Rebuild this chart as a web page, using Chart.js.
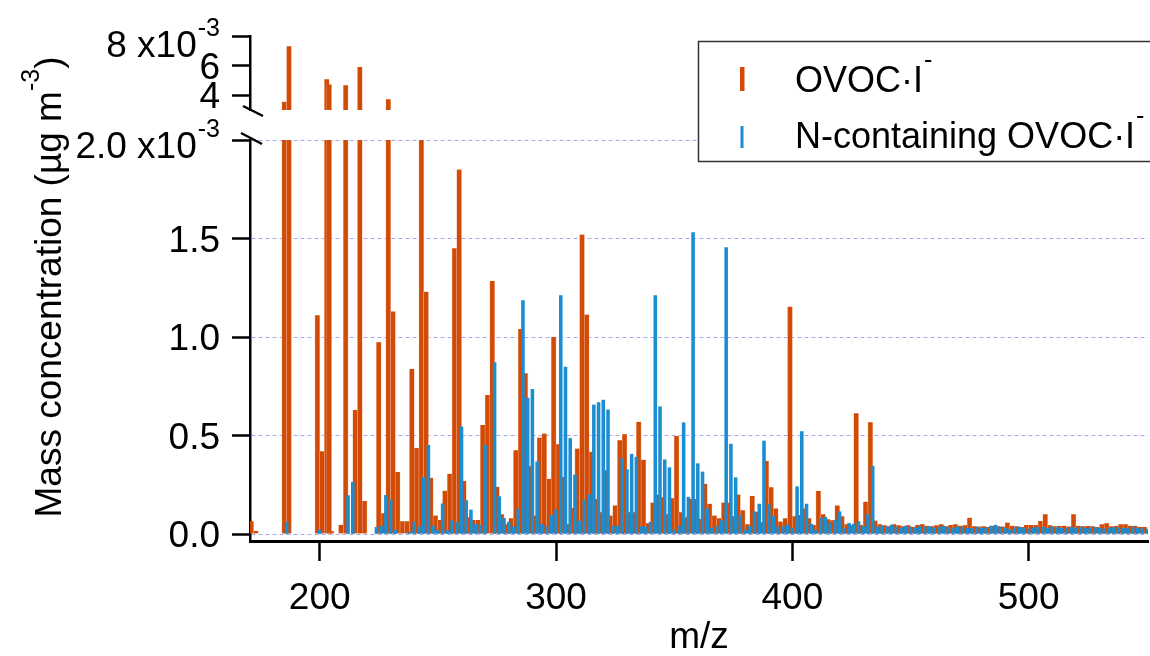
<!DOCTYPE html>
<html>
<head>
<meta charset="utf-8">
<script src="https://cdn.jsdelivr.net/npm/chart.js@4.4.0/dist/chart.umd.min.js"></script>
<style>
  html, body { margin: 0; padding: 0; background: #fff; }
  #wrap { width: 1150px; height: 656px; }
</style>
</head>
<body>
<div id="wrap"><canvas id="chart" width="1150" height="656"></canvas></div>
<script>
// values in 10^-3 ug m^-3
const ovocMz = [
  171,173,185,187,199,201,203,204,205,209,
  211,215,217,219,225,227,229,231,233,235,
  237,239,241,243,245,247,249,251,253,255,
  257,259,261,263,265,267,269,271,273,275,
  277,279,281,283,285,287,289,291,293,295,
  297,299,301,303,305,307,309,311,313,315,
  317,319,321,323,325,327,329,331,333,335,
  337,339,341,343,345,347,349,351,353,355,
  357,359,361,363,365,367,369,371,373,375,
  377,379,381,383,385,387,389,391,393,395,
  397,399,401,403,405,407,409,411,413,415,
  417,419,421,423,425,427,429,431,433,435,
  437,439,441,443,445,447,449,451,453,455,
  457,459,461,463,465,467,469,471,473,475,
  477,479,481,483,485,487,489,491,493,495,
  497,499,501,503,505,507,509,511,513,515,
  517,519,521,523,525,527,529,531,533,535,
  537,539,541,543,545,547,549
]
const ovocVal = [
  .065,.015,3.55,7.3,1.11,.42,5.07,4.73,.014,.047,
  4.67,.63,5.9,.167,.973,.105,3.73,1.13,.315,.065,
  .065,.837,.437,2.6,1.23,.286,.094,.071,.22,.306,
  1.45,1.85,.27,.085,.071,.071,.553,.706,1.284,.24,
  .1,.05,.08,.425,1.04,.816,.344,.094,.49,.51,
  .28,1.0,.456,.29,.05,.133,.434,1.52,1.114,.417,
  .178,.11,.323,.094,.145,.476,.507,.11,.11,.57,
  .377,.054,.16,.2,.187,.1,.182,.497,.11,.085,
  .178,.178,.077,.255,.153,.094,.08,.16,.16,.09,
  .2,.12,.05,.193,.113,.06,.37,.237,.13,.063,
  .08,1.154,.09,.096,.13,.08,.046,.218,.1,.075,
  .07,.145,.09,.05,.045,.613,.046,.164,.567,.068,
  .05,.045,.04,.05,.045,.04,.045,.037,.046,.05,
  .042,.04,.045,.05,.04,.046,.05,.042,.045,.083,
  .04,.038,.04,.035,.042,.04,.038,.058,.042,.04,
  .036,.046,.046,.046,.066,.1,.044,.04,.042,.042,
  .038,.1,.042,.04,.041,.04,.036,.05,.054,.04,
  .042,.05,.05,.042,.042,.036,.035
]
const ncMz = [
  186,200,212,214,224,226,228,230,232,238,
  240,242,244,246,248,250,252,254,256,258,
  260,262,264,266,268,270,274,276,278,280,
  282,284,286,288,290,292,294,296,298,300,
  302,304,306,308,310,312,314,316,318,320,
  322,324,326,328,330,332,334,336,338,340,
  342,344,346,348,350,352,354,356,358,360,
  362,364,366,368,370,372,374,376,378,380,
  382,384,386,388,390,392,394,396,398,400,
  402,404,406,408,410,412,414,416,418,420,
  422,424,426,428,430,432,434,
  436,438,440,442,444,446,448,450,452,454,
  456,458,460,462,464,466,468,470,472,474,
  476,478,480,482,484,486,488,490,492,494,
  496,498,500,502,504,506,508,510,512,514,
  516,518,520,522,524,526,528,530,532,534,
  536,538,540,542,544,546,548,550
]
const ncVal = [
  .06,.02,.195,.263,.034,.04,.196,.173,.02,.01,
  .06,.037,.286,.45,.04,.017,.153,.017,.068,.06,
  .544,.17,.122,.05,.044,.45,.87,.19,.08,.06,
  .037,.127,1.185,.69,.735,.366,.05,.04,.094,.122,
  1.21,.847,.485,.3,.065,.173,.2,.655,.667,.68,
  .63,.04,.04,.383,.327,.405,.39,.037,.037,.06,
  1.21,.646,.377,.337,.02,.04,.565,.187,1.53,.357,
  .315,.128,.03,.04,.068,1.454,.456,.286,.096,.02,
  .04,.113,.152,.472,.15,.09,.037,.037,.046,.03,
  .24,.52,.152,.05,.02,.08,.085,.054,.07,.113,
  .03,.054,.05,.063,.037,.1,.345,
  .035,.04,.037,.045,.035,.03,.04,.035,.03,.038,
  .035,.037,.03,.035,.04,.033,.03,.036,.034,.03,
  .028,.035,.03,.032,.04,.045,.035,.03,.022,.032,
  .035,.03,.025,.032,.034,.035,.03,.036,.034,.03,
  .028,.035,.03,.035,.03,.032,.034,.03,.026,.03,
  .034,.032,.03,.028,.035,.03,.028,.025
]

const xTicks = [200, 300, 400, 500]
const lowTicks = [0, 0.5, 1.0, 1.5, 2.0]
const lowTickLabels = ["0.0", "0.5", "1.0", "1.5", "2.0 x10"]
const highTicks = [4, 6, 8]
const highTickLabels = ["4", "6", "8 x10"]

const LOW_MIN = -0.0355, LOW_MAX = 2.0
const HIGH_MIN = 3, HIGH_MAX = 8

const ORANGE = "#D24B06"
const BLUE = "#1C8DD0"
const GRID = "#A8A8F2"
const FONT = '"Liberation Sans", Arial, sans-serif'

Chart.defaults.font.family = FONT
Chart.defaults.color = "#000"

const lowOvoc = ovocMz.map((m, i) => ({ x: m, y: Math.min(ovocVal[i], LOW_MAX) }))
const lowNc = ncMz.map((m, i) => ({ x: m, y: Math.min(ncVal[i], LOW_MAX) }))
const highOvoc = ovocMz.map((m, i) => ({ x: m, y: ovocVal[i] })).filter(p => p.y > HIGH_MIN)

const fixTicks = (arr) => (axis) => { axis.ticks = arr.map(v => ({ value: v })) }

const decor = {
  id: "decor",
  afterDraw(chart) {
    const ctx = chart.ctx
    const low = chart.scales.yLow
    const high = chart.scales.yHigh
    ctx.save()
    ctx.fillStyle = "#000"
    ctx.strokeStyle = "#000"

    // y tick labels
    const drawLabel = (y, text, sup, shift) => {
      ctx.font = "37px " + FONT
      ctx.textBaseline = "alphabetic"
      if (!sup) {
        ctx.textAlign = "right"
        ctx.fillText(text, 220, y + 13)
        return
      }
      ctx.font = "25px " + FONT
      const sw = ctx.measureText("-3").width
      ctx.textAlign = "left"
      ctx.fillText("-3", 220 - sw, y + 13 + shift - 21)
      ctx.font = "37px " + FONT
      ctx.textAlign = "right"
      ctx.fillText(text, 220 - sw - 1, y + 13 + shift)
    }
    lowTicks.forEach((v, i) => {
      const last = i === lowTicks.length - 1
      drawLabel(low.getPixelForValue(v), lowTickLabels[i], last, 5)
    })
    highTicks.forEach((v, i) => {
      const last = i === highTicks.length - 1
      drawLabel(high.getPixelForValue(v), highTickLabels[i], last, 8)
    })

    // axis break marks
    ctx.lineWidth = 2.5
    ctx.beginPath()
    ctx.moveTo(241, low.top - 7)
    ctx.lineTo(262, low.top + 4)
    ctx.moveTo(243, high.bottom - 4)
    ctx.lineTo(263, high.bottom + 6)
    ctx.stroke()

    // y title
    ctx.save()
    ctx.translate(61, 287)
    ctx.rotate(-Math.PI / 2)
    ctx.font = "37px " + FONT
    const t1 = "Mass concentration (\u00b5g m", t3 = ")"
    const w1 = ctx.measureText(t1).width
    const w3 = ctx.measureText(t3).width
    ctx.font = "25px " + FONT
    const w2 = ctx.measureText("-3").width
    let x0 = -(w1 + w2 + w3) / 2
    ctx.textAlign = "left"
    ctx.textBaseline = "alphabetic"
    ctx.font = "37px " + FONT
    ctx.fillText(t1, x0, 0)
    ctx.font = "25px " + FONT
    ctx.fillText("-3", x0 + w1, -22)
    ctx.font = "37px " + FONT
    ctx.fillText(t3, x0 + w1 + w2, 0)
    ctx.restore()

    // legend
    ctx.fillStyle = "#fff"
    ctx.fillRect(698, 41, 460, 121)
    ctx.lineWidth = 1.5
    ctx.strokeStyle = "#333"
    ctx.strokeRect(698.5, 41.5, 460, 120)
    ctx.fillStyle = ORANGE
    ctx.fillRect(740, 67, 4.5, 24)
    ctx.fillStyle = BLUE
    ctx.fillRect(740.5, 126, 3, 22)
    ctx.fillStyle = "#000"
    ctx.textAlign = "left"
    const legendText = (text, y) => {
      ctx.font = "36px " + FONT
      ctx.fillText(text, 795, y)
      const w = ctx.measureText(text).width
      ctx.font = "25px " + FONT
      ctx.fillText("-", 795 + w + 1, y - 24)
    }
    legendText("OVOC\u00b7I", 92)
    legendText("N-containing OVOC\u00b7I", 148)
    ctx.restore()
  }
}

new Chart(document.getElementById("chart").getContext("2d"), {
  type: "bar",
  data: {
    datasets: [
      {
        label: "N-containing OVOC\u00b7I-",
        data: lowNc,
        xAxisID: "x",
        yAxisID: "yLow",
        backgroundColor: BLUE,
        borderWidth: 0,
        barThickness: 2.9,
        order: 0,
      },
      {
        label: "OVOC\u00b7I-",
        data: lowOvoc,
        xAxisID: "x",
        yAxisID: "yLow",
        backgroundColor: ORANGE,
        borderColor: "rgba(240,175,145,0.9)",
        borderWidth: { left: 0.6, right: 0.6, top: 0, bottom: 0 },
        barThickness: 4.9,
        order: 1,
      },
      {
        label: "OVOC\u00b7I- (upper)",
        data: highOvoc,
        xAxisID: "x",
        yAxisID: "yHigh",
        base: HIGH_MIN,
        backgroundColor: ORANGE,
        borderColor: "rgba(240,175,145,0.9)",
        borderWidth: { left: 0.6, right: 0.6, top: 0, bottom: 0 },
        barThickness: 4.9,
        order: 1,
      },
    ],
  },
  options: {
    responsive: false,
    animation: false,
    devicePixelRatio: 1,
    grouped: false,
    layout: { padding: { top: 36, right: 2, left: 0, bottom: 0 } },
    plugins: { legend: { display: false }, tooltip: { enabled: false } },
    scales: {
      x: {
        type: "linear",
        position: "bottom",
        min: 170.5,
        max: 550.5,
        offset: false,
        afterBuildTicks: fixTicks(xTicks),
        afterFit: (s) => { s.height = 115 },
        grid: {
          offset: false,
          drawOnChartArea: false,
          drawTicks: true,
          tickLength: 20,
          tickWidth: 2.5,
          tickColor: "#000",
        },
        border: { display: true, color: "#000", width: 3 },
        ticks: {
          font: { size: 37 },
          color: "#000",
          padding: 16,
          maxRotation: 0,
          autoSkip: false,
        },
        title: {
          display: true,
          text: "m/z",
          font: { size: 37, lineHeight: 1.0 },
          color: "#000",
          padding: { top: 0, bottom: 0 },
        },
      },
      yHigh: {
        type: "linear",
        position: "left",
        stack: "y",
        stackWeight: 74,
        weight: 3,
        min: HIGH_MIN,
        max: HIGH_MAX,
        afterBuildTicks: fixTicks(highTicks),
        afterFit: (s) => { s.width = 250 },
        grid: {
          drawOnChartArea: false,
          drawTicks: true,
          tickLength: 18,
          tickWidth: 2.5,
          tickColor: "#000",
        },
        border: { display: true, color: "#000", width: 2.5 },
        ticks: { display: false },
      },
      yGap: {
        type: "linear",
        position: "left",
        stack: "y",
        stackWeight: 30,
        weight: 2,
        min: 0,
        max: 1,
        afterFit: (s) => { s.width = 250 },
        grid: { display: false },
        border: { display: false },
        ticks: { display: false },
      },
      yLow: {
        type: "linear",
        position: "left",
        stack: "y",
        stackWeight: 401,
        weight: 1,
        min: LOW_MIN,
        max: LOW_MAX,
        afterBuildTicks: fixTicks(lowTicks),
        afterFit: (s) => { s.width = 250 },
        grid: {
          color: GRID,
          lineWidth: 1,
          drawOnChartArea: true,
          drawTicks: true,
          tickLength: 18,
          tickWidth: 2.5,
          tickColor: "#000",
        },
        border: { display: true, color: "#000", width: 2.5, dash: [4, 3] },
        ticks: { display: false },
      },
    },
  },
  plugins: [decor],
})
</script>
</body>
</html>
